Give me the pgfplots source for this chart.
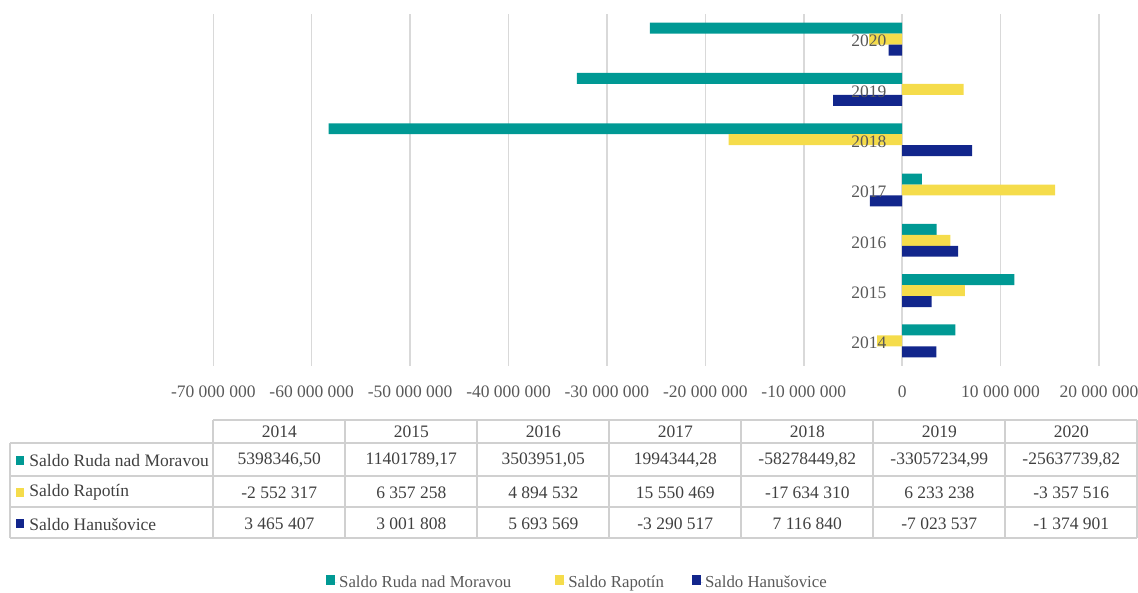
\documentclass[border=0pt]{standalone}
\usepackage{fontspec}
\setmainfont{Liberation Serif}
\usepackage{pgfplots}
\pgfplotsset{compat=1.18}
\definecolor{cteal}{RGB}{0,153,148}
\definecolor{cyellow}{RGB}{245,220,75}
\definecolor{cblue}{RGB}{18,38,140}
\definecolor{cgrid}{RGB}{217,217,217}
\definecolor{ctext}{RGB}{89,89,89}
\definecolor{ctab}{RGB}{64,64,64}
\definecolor{cline}{RGB}{208,208,208}
\begin{document}
\begin{tikzpicture}[font=\fontsize{8.75}{10.5}\selectfont]
\path[use as bounding box] (0,0) rectangle (569pt,-296.5pt);
\begin{axis}[
  at={(106.65pt,-7pt)}, anchor=north west,
  scale only axis, width=442.85pt, height=176pt,
  xbar=0pt, bar width=0.218,
  xmin=-70000000, xmax=20000000,
  ymin=-0.5, ymax=6.5,
  xtick={-70000000,-60000000,-50000000,-40000000,-30000000,-20000000,-10000000,0,10000000,20000000},
  xticklabels={-70 000 000,-60 000 000,-50 000 000,-40 000 000,-30 000 000,-20 000 000,-10 000 000,0,10 000 000,20 000 000},
  scaled x ticks=false,
  ytick=\empty,
  xmajorgrids, grid style={cgrid, line width=0.75pt},
  axis line style={draw=none},
  major tick length=0pt,
  xticklabel style={anchor=center, yshift=-13pt, text=ctext, font=\fontsize{8.75}{10.5}\selectfont},
  clip=false,
  legend columns=3,
  legend style={at={(0.4112,-0.6165)}, anchor=center, draw=none, fill=none,
    text=ctext, font=\fontsize{8.4}{10}\selectfont,
    /tikz/every even column/.append style={column sep=13pt},
    nodes={inner sep=1pt}},
  legend image code/.code={\fill[#1, draw=none] (0pt,-0.8pt) rectangle (4.5pt,4.2pt); \path (0pt,0pt) -- (5.5pt,0pt);},
]
\addplot[fill=cteal, draw=none, bar shift=0.218] coordinates {(5398346.50,0) (11401789.17,1) (3503951.05,2) (1994344.28,3) (-58278449.82,4) (-33057234.99,5) (-25637739.82,6)};
\addplot[fill=cyellow, draw=none, bar shift=0] coordinates {(-2552317,0) (6357258,1) (4894532,2) (15550469,3) (-17634310,4) (6233238,5) (-3357516,6)};
\addplot[fill=cblue, draw=none, bar shift=-0.218] coordinates {(3465407,0) (3001808,1) (5693569,2) (-3290517,3) (7116840,4) (-7023537,5) (-1374901,6)};
\legend{Saldo Ruda nad Moravou\rule{8pt}{0pt}, Saldo Rapotín, Saldo Hanušovice}
\node[anchor=east, inner sep=0pt, text=ctext, xshift=-7.75pt, yshift=-1pt] at (axis cs:0,0) {2014};
\node[anchor=east, inner sep=0pt, text=ctext, xshift=-7.75pt, yshift=-1pt] at (axis cs:0,1) {2015};
\node[anchor=east, inner sep=0pt, text=ctext, xshift=-7.75pt, yshift=-1pt] at (axis cs:0,2) {2016};
\node[anchor=east, inner sep=0pt, text=ctext, xshift=-7.75pt, yshift=-1pt] at (axis cs:0,3) {2017};
\node[anchor=east, inner sep=0pt, text=ctext, xshift=-7.75pt, yshift=-1pt] at (axis cs:0,4) {2018};
\node[anchor=east, inner sep=0pt, text=ctext, xshift=-7.75pt, yshift=-1pt] at (axis cs:0,5) {2019};
\node[anchor=east, inner sep=0pt, text=ctext, xshift=-7.75pt, yshift=-1pt] at (axis cs:0,6) {2020};
\end{axis}
\begin{scope}[x=0.5pt, y=-0.5pt]
  \draw[cline, line width=0.9pt] (213.3,420) -- (1137,420);
  \foreach \yy in {443.3,475.7,507.3,538} {\draw[cline, line width=0.9pt] (10,\yy) -- (1137,\yy);}
  \draw[cline, line width=0.9pt] (10,443.3) -- (10,538);
  \foreach \xx in {213.3,345.3,477.3,609.3,741.3,873.3,1005.3,1137} {\draw[cline, line width=0.9pt] (\xx,420) -- (\xx,538);}
  \foreach \yr [count=\k from 0] in {2014,2015,2016,2017,2018,2019,2020} {\node[text=ctab] at (279.3+132*\k,432) {\yr};}
  \node[text=ctab] at (279.3,460.5) {5398346,50};
  \node[text=ctab] at (411.3,460.5) {11401789,17};
  \node[text=ctab] at (543.3,460.5) {3503951,05};
  \node[text=ctab] at (675.3,460.5) {1994344,28};
  \node[text=ctab] at (807.3,460.5) {-58278449,82};
  \node[text=ctab] at (939.3,460.5) {-33057234,99};
  \node[text=ctab] at (1071.3,460.5) {-25637739,82};
  \node[text=ctab] at (279.3,492.5) {-2 552 317};
  \node[text=ctab] at (411.3,492.5) {6 357 258};
  \node[text=ctab] at (543.3,492.5) {4 894 532};
  \node[text=ctab] at (675.3,492.5) {15 550 469};
  \node[text=ctab] at (807.3,492.5) {-17 634 310};
  \node[text=ctab] at (939.3,492.5) {6 233 238};
  \node[text=ctab] at (1071.3,492.5) {-3 357 516};
  \node[text=ctab] at (279.3,524) {3 465 407};
  \node[text=ctab] at (411.3,524) {3 001 808};
  \node[text=ctab] at (543.3,524) {5 693 569};
  \node[text=ctab] at (675.3,524) {-3 290 517};
  \node[text=ctab] at (807.3,524) {7 116 840};
  \node[text=ctab] at (939.3,524) {-7 023 537};
  \node[text=ctab] at (1071.3,524) {-1 374 901};
  \fill[cteal] (16,455.5) rectangle (24,464.5);
  \fill[cyellow] (16,487.5) rectangle (24,496.5);
  \fill[cblue] (16,519) rectangle (24,528);
  \node[anchor=west, inner sep=0pt, text=ctab] at (29,460.5) {Saldo Ruda nad Moravou};
  \node[anchor=west, inner sep=0pt, text=ctab] at (29,492.5) {Saldo Rapotín};
  \node[anchor=west, inner sep=0pt, text=ctab] at (29,524) {Saldo Hanušovice};
\end{scope}
\end{tikzpicture}
\end{document}
